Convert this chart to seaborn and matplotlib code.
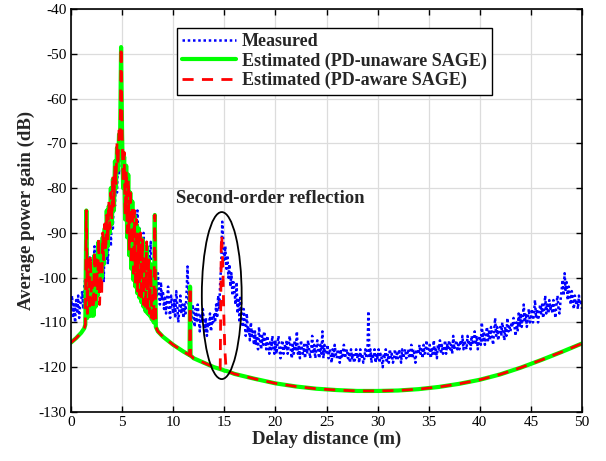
import numpy as np
import pandas as pd
import matplotlib
matplotlib.use("Agg")
import matplotlib.pyplot as plt
from matplotlib.patches import Ellipse
import seaborn as sns

# ---------------- data ----------------
# Measured average power gain (dB), delay distance 0.0 ... 50.0 m in 0.1 m steps
measured_db = [
    -107, -104, -109, -106, -110, -105, -108, -104, -109, -106,   # 0
    -105, -103, -107, -102, -100, -86, -97, -101, -95, -99,       # 1
    -104, -96, -101, -93, -105, -98, -94, -102, -97, -100,        # 2
    -99, -93, -101, -90, -96, -88, -97, -91, -86, -93,            # 3
    -85, -89, -80, -84, -76, -81, -73, -77, -68, -72,             # 4
    -70, -76, -73, -80, -77, -84, -81, -87, -83, -89,             # 5
    -84, -91, -87, -94, -88, -85, -93, -89, -96, -91,             # 6
    -95, -90, -97, -93, -99, -94, -100, -96, -92, -101,           # 7
    -97, -102, -95, -100, -104, -99, -103, -106, -101, -105,      # 8
    -103, -107, -104, -108, -105, -102, -107, -109, -104, -106,   # 9
    -108, -105, -109, -103, -106, -110, -107, -104, -108, -106,   # 10
    -109, -106, -108, -104, -97.5, -105, -109, -107, -110, -106,  # 11
    -108, -111, -107, -110, -106, -109, -112, -108, -110, -107,   # 12
    -110, -112, -109, -113, -110, -111, -108, -112, -109, -110,   # 13
    -108, -110, -106, -109, -104, -107, -101, -97, -87.5, -92,    # 14
    -96, -93, -98, -95, -100, -97, -102, -99, -104, -101,         # 15
    -103, -106, -101, -108, -105, -110, -104, -109, -111, -107,   # 16
    -110, -113, -108, -112, -111, -114, -110, -113, -112, -115,   # 17
    -112, -115, -113, -116, -111, -114, -116, -113, -115, -112,   # 18
    -114, -116, -113, -115, -117, -114, -116, -113, -115, -117,   # 19
    -114, -117, -115, -113, -116, -118, -115, -114, -117, -115,   # 20
    -116, -114, -117, -115, -113, -116, -118, -115, -117, -114,   # 21
    -116, -112, -117, -115, -118, -114, -116, -117, -115, -118,   # 22
    -115, -117, -114, -116, -118, -116, -113, -117, -115, -118,   # 23
    -116, -114, -117, -118, -115, -117, -112, -118, -115, -117,   # 24
    -117, -115, -118, -116, -117, -119, -116, -118, -115, -117,   # 25
    -118, -116, -117, -119, -116, -118, -117, -115, -118, -117,   # 26
    -116, -118, -117, -119, -116, -118, -117, -119, -118, -116,   # 27
    -118, -117, -119, -116, -118, -117, -119, -118, -116, -118,   # 28
    -117, -107.5, -118, -116, -119, -117, -118, -116, -119, -117, # 29
    -118, -116, -119, -117, -118, -120, -117, -118, -116, -119,   # 30
    -117, -119, -116, -118, -117, -119, -118, -116, -118, -117,   # 31
    -118, -116, -117, -119, -116, -118, -117, -116, -118, -117,   # 32
    -116, -118, -117, -115, -118, -116, -117, -119, -116, -117,   # 33
    -117, -115, -117, -116, -118, -115, -117, -116, -114, -117,   # 34
    -117, -115, -118, -116, -117, -114, -117, -116, -118, -115,   # 35
    -116, -114, -117, -115, -117, -116, -114, -117, -115, -116,   # 36
    -114, -116, -115, -117, -113, -116, -115, -114, -116, -115,   # 37
    -116, -114, -115, -113, -116, -114, -115, -116, -113, -115,   # 38
    -114, -116, -113, -115, -114, -112, -115, -113, -116, -114,   # 39
    -113, -115, -110, -114, -112, -115, -113, -111, -114, -112,   # 40
    -114, -111, -113, -115, -112, -109, -113, -111, -114, -112,   # 41
    -111, -113, -110, -112, -114, -111, -113, -109, -112, -111,   # 42
    -112, -110, -111, -109, -111, -113, -110, -112, -108, -111,   # 43
    -108, -111, -109, -106, -110, -108, -111, -109, -107, -110,   # 44
    -109, -107, -110, -108, -105, -109, -107, -110, -108, -106,   # 45
    -108, -106, -109, -107, -104, -108, -106, -108, -105, -107,   # 46
    -106, -108, -105, -107, -109, -106, -104, -107, -108, -105,   # 47
    -103, -100.5, -104, -99, -103, -101, -105, -102, -104, -106,  # 48
    -103, -105, -107, -104, -106, -105, -107, -104, -106, -105,   # 49
    -107,                                                         # 50
]
measured_x = np.round(np.arange(len(measured_db)) * 0.1, 1)

# Estimated curves (shared delay grid, m)
est_x = [0.0, 0.5, 1.0, 1.3,
         1.4, 1.5, 1.6, 1.7, 1.8, 1.9,
         2.0, 2.1, 2.2, 2.3, 2.4, 2.5, 2.6, 2.7, 2.8, 2.9,
         3.0, 3.1, 3.2, 3.3, 3.4, 3.5, 3.6, 3.7, 3.8, 3.9,
         4.0, 4.1, 4.2, 4.3, 4.4, 4.5, 4.6, 4.7, 4.8, 4.9,
         5.0, 5.1, 5.2, 5.3, 5.4, 5.5, 5.6, 5.7, 5.8, 5.9,
         6.0, 6.1, 6.2, 6.3, 6.4, 6.5, 6.6, 6.7, 6.8, 6.9,
         7.0, 7.1, 7.2, 7.3, 7.4, 7.5, 7.6, 7.7, 7.8, 7.9,
         8.0, 8.1, 8.2, 8.3,
         8.5, 9.0, 10.0, 11.0, 11.6, 11.65, 11.7, 12.0, 13.0, 14.0,
         14.6, 14.7, 14.75, 14.85, 14.95, 15.05, 15.15, 15.3, 16.0, 18.0,
         20.0, 22.0, 24.0, 26.0, 28.0, 30.0, 32.0, 34.0, 36.0, 38.0,
         40.0, 42.0, 44.0, 46.0, 48.0, 50.0]
pd_unaware_db = [-114.5, -113.5, -112.3, -111.3,
                 -110.5, -85.0, -109.0, -100.0, -108.5, -97.0,
                 -108.5, -99.0, -108.5, -95.0, -106.5, -98.0, -104.0, -92.0, -102.0, -95.0,
                 -100.0, -91.0, -97.0, -89.0, -95.0, -85.0, -93.0, -84.0, -90.0, -80.0,
                 -88.0, -78.0, -85.0, -74.0, -80.0, -71.0, -76.0, -68.0, -70.0, -48.5,
                 -68.0, -80.0, -73.0, -87.0, -75.0, -91.0, -77.0, -95.0, -81.0, -98.0,
                 -83.0, -100.5, -86.0, -102.0, -88.0, -103.5, -89.0, -104.5, -91.0, -105.5,
                 -91.5, -106.5, -94.0, -107.5, -93.0, -108.0, -96.0, -108.5, -97.0, -109.3,
                 -103.0, -110.0, -86.0, -111.0,
                 -112.0, -113.2, -115.0, -116.5, -117.3, -102.0, -117.4, -118.0, -119.0, -120.0,
                 -120.4, -120.5, -120.5, -120.6, -120.7, -120.8, -120.8, -120.9, -121.5, -122.6,
                 -123.6, -124.3, -124.8, -125.1, -125.3, -125.3, -125.2, -124.9, -124.4, -123.7,
                 -122.8, -121.6, -120.1, -118.4, -116.6, -114.7]
pd_aware_db = [-114.5, -113.5, -112.3, -111.3,
               -110.5, -85.0, -108.0, -96.0, -107.5, -95.0,
               -106.0, -101.0, -107.0, -94.0, -105.0, -96.0, -103.0, -91.0, -106.0, -97.0,
               -104.0, -90.0, -96.0, -88.0, -94.0, -86.0, -92.0, -83.0, -89.0, -81.0,
               -87.0, -77.0, -84.0, -75.0, -79.0, -70.0, -75.0, -67.0, -69.0, -48.5,
               -67.0, -79.0, -72.0, -86.0, -76.0, -90.0, -78.0, -94.0, -80.0, -97.0,
               -84.0, -99.0, -85.0, -101.0, -87.0, -103.0, -90.0, -104.0, -90.0, -105.0,
               -91.5, -106.0, -95.0, -107.0, -92.0, -108.0, -96.0, -108.0, -98.0, -109.0,
               -104.0, -110.0, -86.0, -111.0,
               -112.0, -113.2, -115.0, -116.5, -117.3, -102.0, -117.4, -118.0, -119.0, -120.0,
               -120.4, -93.0, -90.5, -97.0, -108.0, -116.0, -119.5, -120.9, -121.5, -122.6,
               -123.6, -124.3, -124.8, -125.1, -125.3, -125.3, -125.2, -124.9, -124.4, -123.7,
               -122.8, -121.6, -120.1, -118.4, -116.6, -114.7]

x_ticks = list(range(0, 51, 5))
y_ticks = list(range(-130, -39, 10))
labels = ["Measured", "Estimated (PD-unaware SAGE)", "Estimated (PD-aware SAGE)"]

# ---------------- style ----------------
sns.set_style("ticks")
serif = ["Liberation Serif", "DejaVu Serif"]
plt.rcParams["font.family"] = serif
plt.rcParams["axes.unicode_minus"] = False

fig = plt.figure(figsize=(6.06, 4.61), dpi=100)
ax = fig.add_axes([71 / 606, 1 - 412 / 461, 511 / 606, 403 / 461])

meas_df = pd.DataFrame({"x": measured_x, "y": measured_db})
est_df = pd.DataFrame({"x": est_x, "g": pd_unaware_db, "r": pd_aware_db})

sns.lineplot(data=meas_df, x="x", y="y", ax=ax, color="#0000ff", linestyle=":",
             linewidth=1.8, label=labels[0], estimator=None, sort=False)
ax.lines[-1].set_dashes((1, 1.1))
sns.lineplot(data=est_df, x="x", y="g", ax=ax, color="#00ff00", linestyle="-",
             linewidth=3.0, label=labels[1], estimator=None, sort=False)
sns.lineplot(data=est_df, x="x", y="r", ax=ax, color="#ff0000",
             linewidth=2.0, label=labels[2], estimator=None, sort=False)
ax.lines[-1].set_dashes((4, 3))

ax.set_xlim(0, 50)
ax.set_ylim(-130, -40)
ax.set_xticks(x_ticks)
ax.set_yticks(y_ticks)
ax.tick_params(direction="in", length=4, width=1, top=True, right=True,
               labelsize=11, colors="black", pad=3)
ax.grid(True, color="#dcdcdc", linewidth=0.9)
for s in ax.spines.values():
    s.set_visible(True)
    s.set_linewidth(1.2)
    s.set_color("black")

ax.set_xlabel("Delay distance (m)", fontsize=13.5, fontweight="bold", labelpad=1)
ax.set_ylabel("Average power gain (dB)", fontsize=13.5, fontweight="bold", labelpad=3)

ax.add_patch(Ellipse((14.75, -104.0), 3.9, 37.3, fill=False, edgecolor="black",
                     linewidth=1.3, zorder=5))
ax.text(10.3, -82.3, "Second-order reflection", fontsize=13.5, fontweight="bold",
        ha="left", va="center", zorder=6)

leg = ax.legend(loc="upper left", bbox_to_anchor=(0.207, 0.953), borderaxespad=0,
                fancybox=False, framealpha=1, edgecolor="black",
                prop={"family": serif, "weight": "bold", "size": 13},
                handlelength=3.0, handletextpad=0.3, labelspacing=0.12,
                borderpad=0.3)
leg.get_frame().set_linewidth(1.0)

fig.savefig("out.png", dpi=100)
